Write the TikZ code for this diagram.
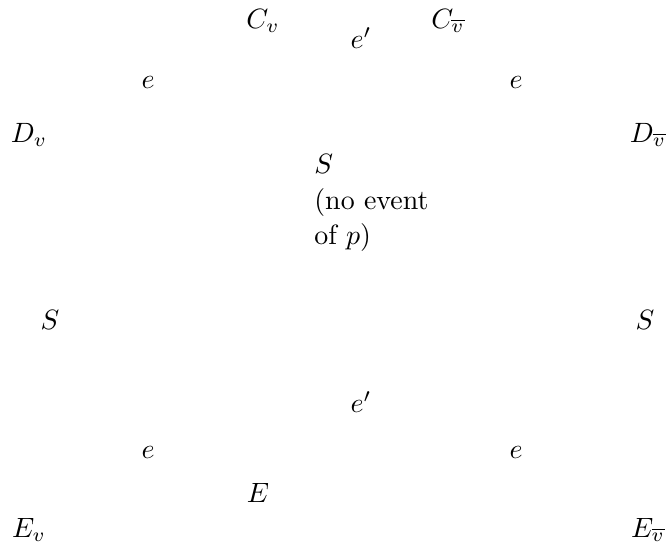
\documentclass[tikz,border=0pt]{standalone}
\usepackage{amsmath, amssymb}
\usepackage{tikz}
\usetikzlibrary{positioning}
\tikzset{lbl/.style={inner sep=1pt}}
\begin{document}
\begin{tikzpicture}[x=0.358pt, y=-0.358pt]
\useasboundingbox (0,0) rectangle (668,548);
% ---- top row ----
\node[lbl] (Cv) at (263,21) {$C_v$};
\node[lbl] (ep1) at (361,38) {$e'$};
\node[lbl] (Cvb) at (448,21) {$C_{\overline{v}}$};
\node[lbl] (e1) at (148,82) {$e$};
\node[lbl] (e2) at (516,82) {$e$};
\node[lbl] (Dv) at (29,135) {$D_v$};
\node[lbl] (Dvb) at (648,135) {$D_{\overline{v}}$};
% ---- middle: state S ----
\node[lbl, align=left, anchor=north west] (S0) at (311,151) {$S$\\[0.8pt](no event\\[0.8pt]of $p$)};
\node[lbl] (S1) at (50,320) {$S$};
\node[lbl] (S2) at (645,320) {$S$};
% ---- bottom row ----
\node[lbl] (ep2) at (361,402) {$e'$};
\node[lbl] (e3) at (148,452) {$e$};
\node[lbl] (e4) at (516,452) {$e$};
\node[lbl] (E) at (258,493) {$E$};
\node[lbl] (Ev) at (29,530) {$E_v$};
\node[lbl] (Evb) at (648,530) {$E_{\overline{v}}$};
\end{tikzpicture}
\end{document}
